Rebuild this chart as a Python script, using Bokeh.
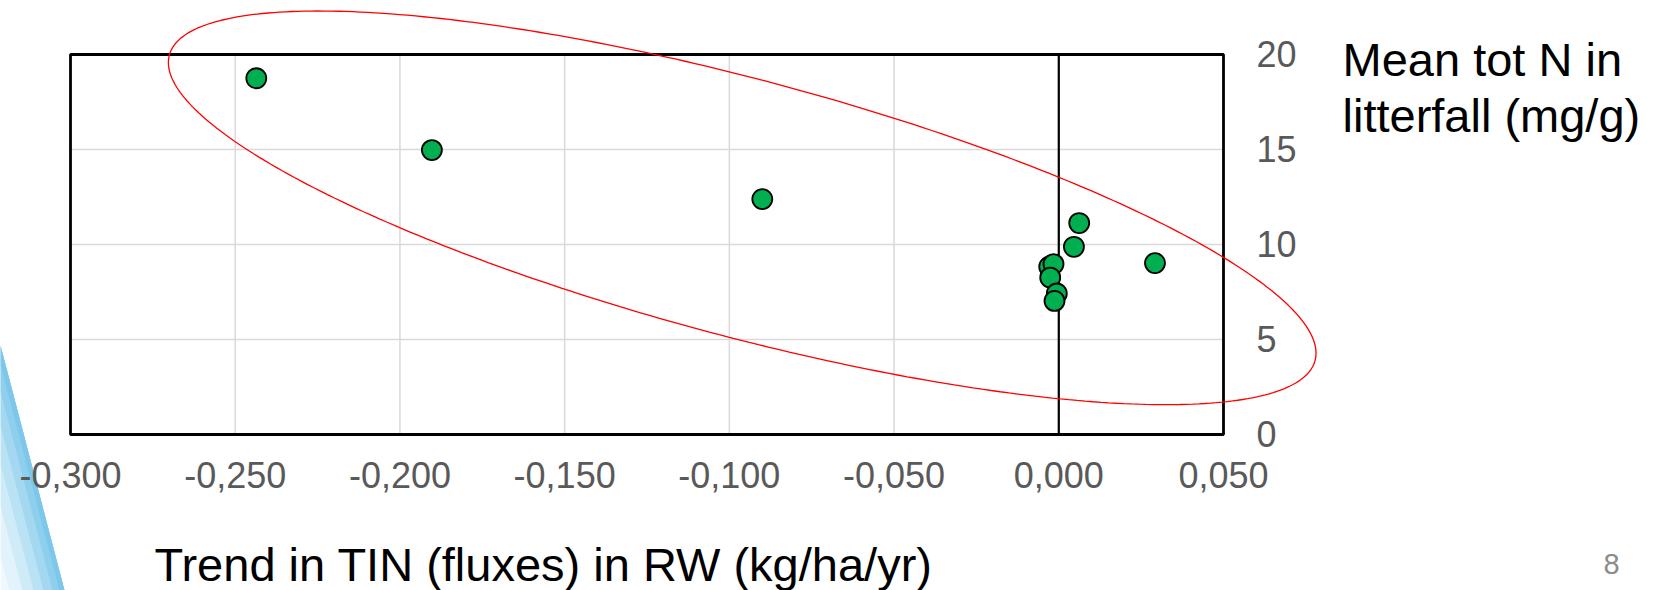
import numpy as np
from bokeh.plotting import figure
from bokeh.models import Range1d
from bokeh.core.properties import value
from bokeh.embed import file_html
from bokeh.resources import INLINE

# ---- data ----
trend_tin = [-0.2436, -0.1903, -0.0900, -0.0029, -0.0016, -0.0026, -0.0006, -0.0013, 0.0046, 0.0062, 0.0292]
mean_tot_n = [18.75, 14.97, 12.39, 8.83, 8.97, 8.26, 7.42, 7.03, 9.88, 11.13, 9.02]

x_ticks = [-0.3, -0.25, -0.2, -0.15, -0.1, -0.05, 0.0, 0.05]
x_tick_labels = ["-0,300", "-0,250", "-0,200", "-0,150", "-0,100", "-0,050", "0,000", "0,050"]
y_ticks = [0, 5, 10, 15, 20]
y_tick_labels = ["0", "5", "10", "15", "20"]

x_title = "Trend in TIN (fluxes) in RW (kg/ha/yr)"
y_title_lines = ["Mean tot N in", "litterfall (mg/g)"]
page_number = "8"

# hand-drawn ellipse (data units): centre and two conjugate radii
ell_center = (-0.0961, 11.93)
ell_r1 = (0.1739, -8.035)
ell_r2 = (-0.0100, -6.538)

X0, X1 = -0.3, 0.05
Y0, Y1 = 0, 20
W, H = 1660, 590
FL, FR, FT, FB = 70, 1223, 54, 434   # pixel box of the chart's plot area

sx = (FR - FL) / (X1 - X0)
sy = (FB - FT) / (Y1 - Y0)

FONT = value("Liberation Sans")

p = figure(width=W, height=H,
           x_range=Range1d(X0 - FL / sx, X1 + (W - FR) / sx),
           y_range=Range1d(Y0 - (H - FB) / sy, Y1 + FT / sy),
           output_backend="svg", toolbar_location=None,
           x_axis_location=None, y_axis_location=None,
           min_border=0)
p.background_fill_color = "white"
p.border_fill_color = "white"
p.outline_line_color = None
p.grid.visible = False

def dx(px):
    return X0 + (px - FL) / sx

def dy(py):
    return Y1 - (py - FT) / sy

# slide decoration (blue swoosh at lower left): layered strips along an edge
edge_top, edge_bx = 345, 64
for w, col in ((70, "#eef8fd"), (55, "#e2f3fb"), (42, "#d0ebf8"), (31, "#bae2f5"),
               (21, "#a4d8f1"), (12, "#8ecfee"), (5, "#7cc7ea")):
    slope = (H - edge_top) / edge_bx
    pts = [(0, edge_top), (edge_bx, H), (max(edge_bx - w, 0), H), (0, min(edge_top + w * slope, H))]
    p.patch([dx(a) for a, b in pts], [dy(b) for a, b in pts],
            fill_color=col, line_color=None)

# grid
gx = [v for v in x_ticks if X0 < v < X1]
gy = [v for v in y_ticks if Y0 < v < Y1]
p.segment(x0=gx, y0=[Y0] * len(gx), x1=gx, y1=[Y1] * len(gx),
          line_color="#d9d9d9", line_width=1.5)
p.segment(x0=[X0] * len(gy), y0=gy, x1=[X1] * len(gy), y1=gy,
          line_color="#d9d9d9", line_width=1.5)

# zero line and plot box
p.segment(x0=[0], y0=[Y0], x1=[0], y1=[Y1], line_color="black", line_width=2.2)
p.quad(left=[X0], right=[X1], bottom=[Y0], top=[Y1], fill_color=None,
       line_color="black", line_width=2.8)

# tick labels
p.text(x=x_ticks, y=[Y0] * len(x_ticks), text=x_tick_labels, y_offset=40,
       text_font=FONT, text_font_size="36px", text_color="#595959",
       text_align="center", text_baseline="middle")
p.text(x=[X1] * len(y_ticks), y=y_ticks, text=y_tick_labels, x_offset=33, y_offset=-1,
       text_font=FONT, text_font_size="36px", text_color="#595959",
       text_align="left", text_baseline="middle")

# ellipse
t = np.linspace(0, 2 * np.pi, 361)
ex = ell_center[0] + ell_r1[0] * np.cos(t) + ell_r2[0] * np.sin(t)
ey = ell_center[1] + ell_r1[1] * np.cos(t) + ell_r2[1] * np.sin(t)
p.line(ex, ey, line_color="#ff0000", line_width=1.3)

# points
p.scatter(trend_tin, mean_tot_n, size=20, fill_color="#00B050",
          line_color="black", line_width=1.8)

# titles
p.text(x=[dx(154)], y=[dy(580)], text=[x_title], text_font=FONT, y_offset=-16,
       text_font_size="47px", text_color="black",
       text_align="left", text_baseline="alphabetic")
p.text(x=[dx(1342)] * 2, y=[dy(73), dy(129)], text=y_title_lines, text_font=FONT,
       y_offset=-14, text_font_size="47px", text_color="black",
       text_align="left", text_baseline="alphabetic")
p.text(x=[dx(1603)], y=[dy(572)], text=[page_number], text_font=FONT, y_offset=-9,
       text_font_size="29px", text_color="#8c8c8c",
       text_align="left", text_baseline="alphabetic")

open("out.html", "w").write(file_html(p, INLINE))
